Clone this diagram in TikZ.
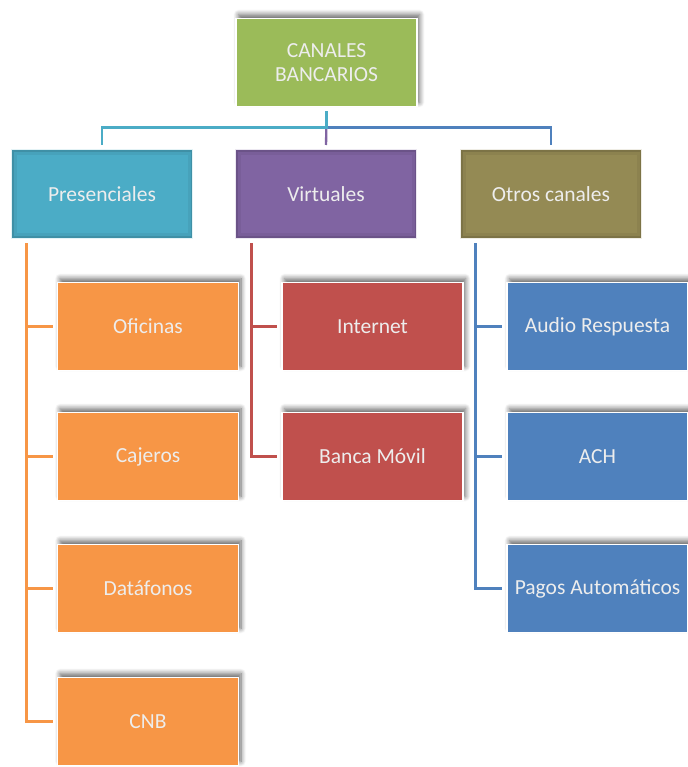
\documentclass[tikz,border=0pt]{standalone}
\usepackage{fontspec}
\setmainfont{Carlito}
\usetikzlibrary{shadows.blur}

\definecolor{verde}{HTML}{9BBB59}
\definecolor{celeste}{HTML}{4BACC6}
\definecolor{morado}{HTML}{8064A2}
\definecolor{oliva}{HTML}{948A54}
\definecolor{naranja}{HTML}{F79646}
\definecolor{rojo}{HTML}{C0504D}
\definecolor{azul}{HTML}{4F81BD}

\tikzset{
  caja/.style={anchor=center,rectangle,minimum width=181pt,minimum height=88pt,
    inner sep=0pt,outer sep=0pt,text=white!93!black,align=center,
    font=\fontsize{21.5}{24}\selectfont},
  hoja/.style={caja,fill=#1,draw=white,line width=1.5pt,
    blur shadow={shadow xshift=2.5pt,shadow yshift=4pt,shadow blur radius=5pt,
      shadow blur steps=8,shadow opacity=60}},
  grupo/.style={caja,fill=#1,draw=white!85!#1,line width=1pt,
    path picture={
      \draw [#1!70!black,line width=10pt,opacity=0.18]
        (path picture bounding box.south west) rectangle (path picture bounding box.north east);
      \draw [#1!60!black,line width=4pt,opacity=0.3]
        (path picture bounding box.south west) rectangle (path picture bounding box.north east);
    }},
  rama/.style={line width=2.3pt}
}

\begin{document}
\begin{tikzpicture}[x=1pt,y=-1pt]
  \useasboundingbox (0,0) rectangle (687,767);

  \node [hoja=verde] (raiz) at (326.5,62.5) {CANALES\\BANCARIOS};

  \node [grupo=celeste] (pres) at (102,194) {Presenciales};
  \node [grupo=morado] (virt) at (326,194) {Virtuales};
  \node [grupo=oliva] (otros) at (551,194) {Otros canales};

  \node [hoja=naranja] (ofi) at (148,326.5) {Oficinas};
  \node [hoja=naranja] (caj) at (148,456.5) {Cajeros};
  \node [hoja=naranja] (dat) at (148,588.5) {Datáfonos};
  \node [hoja=naranja] (cnb) at (148,721.5) {CNB};

  \node [hoja=rojo] (inter) at (372.5,326.5) {Internet};
  \node [hoja=rojo] (movil) at (372.5,456.5) {Banca Móvil};

  \node [hoja=azul] (audio) at (597.5,326.5) {Audio Respuesta};
  \node [hoja=azul] (ach) at (597.5,456.5) {ACH};
  \node [hoja=azul] (pagos) at (597.5,588.5) {Pagos Automáticos};

  % ramas del primer nivel
  \draw [rama,morado,shorten <=5pt,shorten >=5pt] (raiz.south) -- (virt.north);
  \draw [rama,azul,shorten <=5pt,shorten >=5pt] (raiz.south) -- ++(0,21) -| (otros.north);
  \draw [rama,celeste,shorten <=5pt,shorten >=5pt] (raiz.south) -- ++(0,21) -| (pres.north);

  % ramas del segundo nivel
  \draw [rama,naranja,shorten >=5pt] ([xshift=15pt,yshift=-5pt]pres.south west) |- (cnb.west);
  \draw [rama,naranja,shorten >=5pt] ([xshift=15pt,yshift=-5pt]pres.south west) |- (dat.west);
  \draw [rama,naranja,shorten >=5pt] ([xshift=15pt,yshift=-5pt]pres.south west) |- (caj.west);
  \draw [rama,naranja,shorten >=5pt] ([xshift=15pt,yshift=-5pt]pres.south west) |- (ofi.west);

  \draw [rama,rojo,shorten >=5pt] ([xshift=16pt,yshift=-5pt]virt.south west) |- (movil.west);
  \draw [rama,rojo,shorten >=5pt] ([xshift=16pt,yshift=-5pt]virt.south west) |- (inter.west);

  \draw [rama,azul,shorten >=5pt] ([xshift=15pt,yshift=-5pt]otros.south west) |- (pagos.west);
  \draw [rama,azul,shorten >=5pt] ([xshift=15pt,yshift=-5pt]otros.south west) |- (ach.west);
  \draw [rama,azul,shorten >=5pt] ([xshift=15pt,yshift=-5pt]otros.south west) |- (audio.west);
\end{tikzpicture}
\end{document}
